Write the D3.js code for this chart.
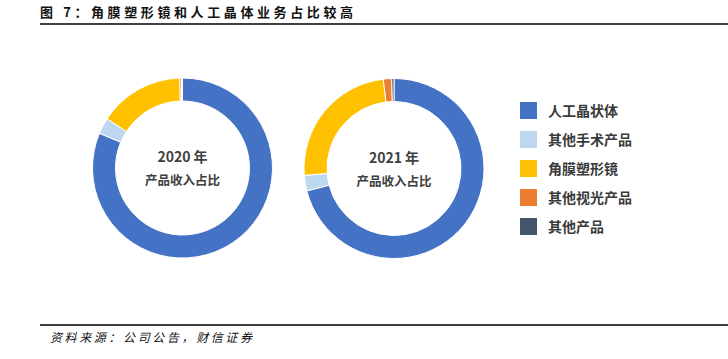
<!DOCTYPE html>
<html>
<head>
<meta charset="utf-8">
<script src="https://cdn.jsdelivr.net/npm/d3@7"></script>
<style>
    body { margin: 0; background: #fff; }
    svg { display: block; font-family: "Noto Sans CJK SC", "Noto Sans", sans-serif; }
</style>
</head>
<body>
<div id="chart"></div>
<script>
// product categories, clockwise from 12 o'clock
var categories = ["人工晶状体", "其他手术产品", "角膜塑形镜", "其他视光产品", "其他产品"];
// revenue share (%)
var share2020 = [81.3, 2.9, 15.3, 0.3, 0.2];
var share2021 = [71.0, 2.8, 24.3, 1.5, 0.4];
var years = ["2020 年", "2021 年"];
var centreLabel = "产品收入占比";
var titleText = "图 7：角膜塑形镜和人工晶体业务占比较高";
var sourceText = "资料来源：公司公告，财信证券";

var width = 728;
var height = 359;

var colour = d3.scaleOrdinal()
    .domain(categories)
    .range(["#4472C4", "#BDD7EE", "#FFC000", "#ED7D31", "#44546A"]);

var svg = d3.select("#chart")
    .append("svg")
    .attr("width", width)
    .attr("height", height);

//title + rule underneath
svg.append("text")
    .attr("x", 40)
    .attr("y", 17)
    .attr("textLength", 313)
    .attr("lengthAdjust", "spacing")
    .style("font-size", "13px")
    .style("font-weight", "bold")
    .style("fill", "#111")
    .text(titleText);

svg.append("line")
    .attr("x1", 40).attr("x2", width)
    .attr("y1", 24).attr("y2", 24)
    .style("stroke", "#000")
    .style("stroke-width", 1.5);

//source rule + text
svg.append("line")
    .attr("x1", 40).attr("x2", width)
    .attr("y1", 325).attr("y2", 325)
    .style("stroke", "#000")
    .style("stroke-width", 1.5);

svg.append("text")
    .attr("x", 50)
    .attr("y", 342)
    .attr("textLength", 202)
    .attr("lengthAdjust", "spacing")
    .style("font-size", "12px")
    .style("font-style", "italic")
    .style("fill", "#111")
    .text(sourceText);

var pie = d3.pie()
    .sort(null)
    .value(function(d) { return d; });

var arc = d3.arc()
    .innerRadius(67)
    .outerRadius(90);

var rings = [
    {label: years[0], values: share2020, cx: 182.5, cy: 168},
    {label: years[1], values: share2021, cx: 394, cy: 168.5}
];

rings.forEach(function(r) {
    var g = svg.append("g")
        .attr("transform", "translate(" + r.cx + "," + r.cy + ")");

    g.selectAll("path")
        .data(pie(r.values))
        .enter()
        .append("path")
        .attr("d", arc)
        .style("fill", function(d, i) { return colour(categories[i]); })
        .style("stroke", "#fff")
        .style("stroke-width", 1);

    g.append("text")
        .attr("text-anchor", "middle")
        .attr("y", -6)
        .style("font-size", "14px")
        .style("font-weight", "bold")
        .style("fill", "#404040")
        .text(r.label);

    g.append("text")
        .attr("text-anchor", "middle")
        .attr("y", 17)
        .style("font-size", "12.5px")
        .style("font-weight", "bold")
        .style("fill", "#404040")
        .text(centreLabel);
});

//legend
var legend = svg.append("g")
    .attr("transform", "translate(520,102)");

var item = legend.selectAll(".legend-item")
    .data(categories)
    .enter()
    .append("g")
    .attr("class", "legend-item")
    .attr("transform", function(d, i) { return "translate(0," + (i * 29) + ")"; });

item.append("rect")
    .attr("width", 17)
    .attr("height", 17)
    .style("fill", function(d) { return colour(d); });

item.append("text")
    .attr("x", 28)
    .attr("y", 14)
    .style("font-size", "14px")
    .style("font-weight", "bold")
    .style("fill", "#3a3a3a")
    .text(function(d) { return d; });
</script>
</body>
</html>
